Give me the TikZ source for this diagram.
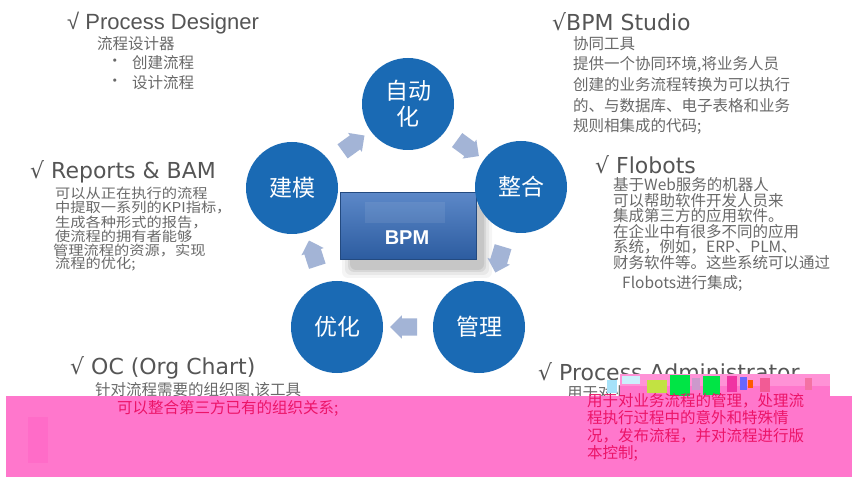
\documentclass[tikz,border=0pt]{standalone}
\usepackage{fontspec}
\setmainfont{DejaVu Sans}
\newfontfamily\cjk{Noto Sans CJK SC}
\newfontfamily\cjkw[FakeStretch=1.12]{Noto Sans CJK SC}
\newfontfamily\arialf{Liberation Sans}
\usetikzlibrary{shapes.arrows}
\definecolor{circblue}{RGB}{26,106,180}
\definecolor{arrowc}{RGB}{163,180,214}
\definecolor{titlec}{RGB}{85,85,85}
\definecolor{bodyc}{RGB}{105,105,105}
\definecolor{pinkc}{RGB}{255,119,204}
\definecolor{pinkd}{RGB}{255,108,200}
\definecolor{redc}{RGB}{236,20,104}
\definecolor{boxtop}{RGB}{92,136,200}
\definecolor{boxbot}{RGB}{44,92,160}
\begin{document}
\begin{tikzpicture}[x=1pt,y=-1pt,
  title/.style={anchor=west, inner sep=0pt, text=titlec, font=\fontsize{22}{26}\selectfont},
  body/.style={anchor=west, inner sep=0pt, text=bodyc, font=\cjk\fontsize{15.5}{18}\selectfont},
  tightbody/.style={body, font=\cjkw\fontsize{13.6}{15}\selectfont},
  redtxt/.style={body, text=redc},
  stage/.style={circle, fill=circblue, minimum size=92pt, inner sep=0pt, text=white,
    font=\cjk\fontsize{23}{26}\selectfont, align=center},
  flow/.style={single arrow, fill=arrowc, text height=8.5pt, text depth=8.5pt, text width=0pt,
    minimum height=27pt, single arrow head extend=3pt, inner sep=0pt, sloped, allow upside down}]
\useasboundingbox (0,0) rectangle (854,478);
\fill[white] (0,0) rectangle (854,478);

% ---- central BPM box with shadow
\foreach \s/\o in {10/0.04,7/0.05,4/0.07,2/0.08}{
  \fill[black, opacity=\o, rounded corners=6pt] (352-\s,208-\s) rectangle (482+\s,268+\s);
}
\node[rectangle, minimum width=136pt, minimum height=67pt, top color=boxtop, bottom color=boxbot,
  draw=boxbot!80!black, line width=0.6pt, inner sep=0pt] (bpm) at (408,226) {};
\fill[white, opacity=0.08] (365,202) rectangle (445,223);
\node[font=\arialf\bfseries\fontsize{20}{24}\selectfont, text=white, inner sep=0pt] (bpml) at (407,238) {BPM};

% ---- stage circles
\node[stage] (zdh) at (408,104) {自动\\化};
\node[stage] (zh)  at (521,187) {整合};
\node[stage] (gl)  at (479,327) {管理};
\node[stage] (yh)  at (337,327) {优化};
\node[stage] (jm)  at (292,188) {建模};

% ---- block arrows between stages
\path (jm) -- node[flow] (a1) {} (zdh);
\path (zdh) -- node[flow] (a2) {} (zh);
\path (zh) -- node[flow, pos=0.47] (a3) {} (gl);
\path (gl) -- node[flow] (a4) {} (yh);
\path (yh) -- node[flow] (a5) {} (jm);

% ---- Process Designer
\node[title, font=\arialf\fontsize{22}{26}\selectfont] (pdt) at (67,23) {√ Process Designer};
\node[body] (pd1) at (97,44) {流程设计器};
\node[body] (pdb1) at (107,63) {•};
\node[body] (pd2) at (132,63) {创建流程};
\node[body] (pdb2) at (107,83) {•};
\node[body] (pd3) at (132,83) {设计流程};

% ---- BPM Studio
\node[title] (bst) at (552,22) {√BPM Studio};
\node[body] (bs1) at (573,44) {协同工具};
\node[body] (bs2) at (573,64.5) {提供一个协同环境,将业务人员};
\node[body] (bs3) at (573,85) {创建的业务流程转换为可以执行};
\node[body] (bs4) at (573,105.5) {的、与数据库、电子表格和业务};
\node[body] (bs5) at (573,126) {规则相集成的代码;};

% ---- Reports & BAM
\node[title] (rbt) at (30,172) {√ Reports \& BAM};
\node[tightbody] (rb1) at (55,193) {可以从正在执行的流程};
\node[tightbody] (rb2) at (55,207.5) {中提取一系列的KPI指标，};
\node[tightbody] (rb3) at (55,222) {生成各种形式的报告，};
\node[tightbody] (rb4) at (55,236) {使流程的拥有者能够};
\node[tightbody] (rb5) at (53,250) {管理流程的资源，实现};
\node[tightbody] (rb6) at (55,264) {流程的优化;};

% ---- Flobots
\node[title] (fbt) at (595,165) {√ Flobots};
\node[body] (fb1) at (613,185) {基于Web服务的机器人};
\node[body] (fb2) at (613,200.5) {可以帮助软件开发人员来};
\node[body] (fb3) at (613,216) {集成第三方的应用软件。};
\node[body] (fb4) at (613,231.5) {在企业中有很多不同的应用};
\node[body] (fb5) at (613,247) {系统，例如，ERP、PLM、};
\node[body] (fb6) at (613,263) {财务软件等。这些系统可以通过};
\node[body] (fb7) at (622,283) {Flobots进行集成;};

% ---- OC (Org Chart)
\node[title] (oct) at (70,368) {√ OC (Org Chart)};
\node[body] (oc1) at (95,390) {针对流程需要的组织图,该工具};

% ---- Process Administrator
\node[title] (pat) at (538,372) {√ Process Administrator};
\node[body] (pa0) at (567,393) {用于对业务流程的管理，处理流};

% ---- pink overlay
\fill[pinkc] (6,396) rectangle (852,477);
\fill[pinkd] (28,417) rectangle (48,463);

% ---- glitch blocks
\fill[pinkc!80!white] (620,374) rectangle (830,386);
\fill[pinkc] (620,386) rectangle (830,396);
\fill[cyan!35!white] (607,380) rectangle (617,393);
\fill[cyan!20!white] (622,376) rectangle (640,384);
\fill[yellow!70!green!80!white] (647,380) rectangle (667,393);
\fill[green!70!cyan!90!black] (670,375) rectangle (690,396);
\fill[violet!40!white] (692,378) rectangle (700,390);
\fill[green!70!cyan!90!black] (703,376) rectangle (720,395);
\fill[magenta!80!white] (727,376) rectangle (737,392);
\fill[blue!60!white] (740,377) rectangle (747,390);
\fill[orange!70!red] (748,380) rectangle (753,388);
\fill[redc!70!white] (760,378) rectangle (770,392);
\fill[redc!60!white] (805,378) rectangle (812,390);

% ---- red overlay texts
\node[redtxt] (oc2) at (117,408) {可以整合第三方已有的组织关系;};
\node[redtxt] (pa1) at (587,401) {用于对业务流程的管理，处理流};
\node[redtxt] (pa2) at (587,418) {程执行过程中的意外和特殊情};
\node[redtxt] (pa3) at (587,435.5) {况，发布流程，并对流程进行版};
\node[redtxt] (pa4) at (587,453) {本控制;};
\end{tikzpicture}
\end{document}
